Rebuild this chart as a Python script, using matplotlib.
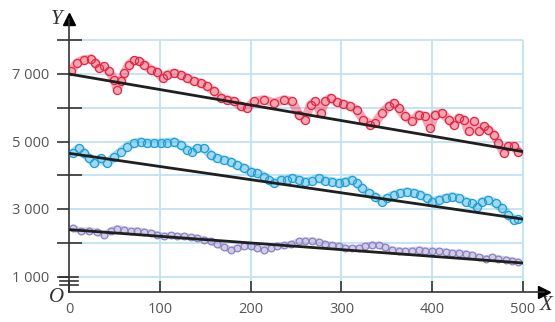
import matplotlib
matplotlib.use("Agg")
from matplotlib import pyplot as plt

# values
red_x = [2, 9, 16, 24, 29, 33, 38, 44, 50, 53, 57, 61, 66, 72, 77, 83, 90, 97, 103, 108,
         116, 123, 130, 138, 145, 152, 160, 167, 174, 182, 189, 196, 204, 215, 226, 237, 246, 253, 260, 266,
         271, 277, 282, 288, 295, 302, 310, 317, 324, 332, 337, 345, 352, 358, 363, 370, 378, 385, 392, 398,
         403, 411, 418, 424, 429, 435, 440, 446, 451, 457, 462, 468, 473, 479, 484, 490, 495]
red_y = [7100, 7330, 7420, 7450, 7330, 7180, 7230, 7080, 6830, 6540, 6780, 7030, 7280, 7400, 7380, 7280, 7130, 7060, 6880, 6980,
         7030, 6980, 6880, 6780, 6730, 6640, 6490, 6290, 6240, 6190, 6040, 5990, 6190, 6240, 6140, 6240, 6190, 5800, 5650, 6090,
         6190, 5840, 6190, 6290, 6170, 6110, 6040, 5940, 5650, 5500, 5550, 5840, 6040, 6140, 5990, 5750, 5600, 5800, 5750, 5400,
         5800, 5840, 5650, 5500, 5700, 5650, 5300, 5600, 5300, 5450, 5350, 5200, 4960, 4660, 4860, 4860, 4690]

blue_x = [4, 11, 17, 22, 28, 35, 42, 50, 57, 64, 72, 79, 86, 94, 101, 108, 116, 123, 130, 136,
          141, 149, 156, 163, 171, 178, 185, 193, 200, 207, 215, 220, 226, 233, 240, 246, 253, 260, 268, 275,
          282, 290, 297, 304, 312, 317, 323, 330, 337, 345, 350, 358, 365, 372, 380, 387, 394, 400, 407, 415,
          422, 429, 437, 444, 449, 455, 462, 470, 477, 484, 490, 495]
blue_y = [4650, 4800, 4650, 4500, 4350, 4500, 4350, 4550, 4700, 4850, 4950, 4990, 4950, 4950, 4950, 4970, 4990, 4900, 4750, 4700,
          4800, 4800, 4600, 4500, 4450, 4400, 4300, 4210, 4110, 4060, 3960, 3860, 3760, 3860, 3860, 3910, 3860, 3810, 3840, 3910,
          3840, 3810, 3760, 3810, 3860, 3760, 3610, 3470, 3370, 3220, 3320, 3420, 3470, 3510, 3470, 3420, 3320, 3220, 3270, 3320,
          3370, 3320, 3220, 3170, 3070, 3220, 3270, 3170, 3020, 2820, 2670, 2690]

purple_x = [4, 13, 22, 31, 39, 46, 53, 61, 68, 75, 83, 90, 97, 105, 112, 119, 127, 134, 141, 149,
            156, 163, 171, 178, 185, 193, 200, 207, 215, 222, 229, 237, 245, 253, 260, 268, 275, 282, 290, 297,
            304, 312, 319, 326, 334, 341, 348, 356, 363, 370, 378, 385, 392, 400, 407, 415, 422, 429, 437, 444,
            451, 459, 466, 473, 481, 488, 495]
purple_y = [2440, 2340, 2360, 2320, 2240, 2360, 2420, 2390, 2340, 2360, 2320, 2290, 2240, 2190, 2220, 2190, 2190, 2160, 2140, 2090,
            2040, 1960, 1870, 1790, 1840, 1900, 1900, 1840, 1790, 1840, 1900, 1920, 1950, 2040, 2060, 2060, 2020, 1960, 1920, 1900,
            1840, 1830, 1840, 1900, 1940, 1920, 1870, 1790, 1770, 1750, 1770, 1790, 1770, 1750, 1750, 1730, 1700, 1700, 1670, 1630,
            1570, 1530, 1570, 1530, 1500, 1470, 1430]

# trend lines (end points)
trend_x = [0, 500]
red_trend = [7000, 4700]
blue_trend = [4650, 2700]
purple_trend = [2390, 1400]

x_ticks = [0, 100, 200, 300, 400, 500]
y_ticks = [1000, 3000, 5000, 7000]
y_tick_labels = ["1 000", "3 000", "5 000", "7 000"]
y_minor = [2000, 4000, 6000, 8000]

W, H = 555, 322
L, R, B, T = 69, 543.5, 292, 19
px_x = 0.908      # pixels per x unit
px_y = 0.03375    # pixels per y unit

fig = plt.figure(figsize=(W / 100, H / 100), dpi=100)
ax = fig.add_axes([L / W, (H - B) / H, (R - L) / W, (B - T) / H])
ax.set_xlim(0, (R - L) / px_x)
ax.set_ylim(7000 - (B - 74) / px_y, 7000 + (74 - T) / px_y)

grid_c = "#bfe3f3"
ax.hlines([1000, 2000, 3000, 4000, 5000, 6000, 7000, 8000], 0, 500, color=grid_c, lw=1.3, zorder=0)
ax.vlines([100, 200, 300, 400, 500], ax.get_ylim()[0], 8000, color=grid_c, lw=1.3, zorder=0)

# each series: a soft ribbon plus the open circles on top
series = [(red_x, red_y, "#e8223f", 6.5, 5.8),
          (blue_x, blue_y, "#1a9fd8", 6.5, 5.8),
          (purple_x, purple_y, "#8d82c2", 5.0, 4.8)]
for xs, ys, c, lw, ms in series:
    ax.plot(xs, ys, color=c, lw=lw, alpha=0.4, solid_joinstyle="round",
            solid_capstyle="round", zorder=2)
    ax.plot(xs, ys, ls="none", marker="o", mfc="none", mec=c, ms=ms, mew=0.9, zorder=3)

for tr in (red_trend, blue_trend, purple_trend):
    ax.plot(trend_x, tr, color="#1f1f1f", lw=2, zorder=4, solid_capstyle="butt")

# axes, ticks
for s in ("top", "right"):
    ax.spines[s].set_visible(False)
for s in ("left", "bottom"):
    ax.spines[s].set_color("#333333")
    ax.spines[s].set_linewidth(1.2)

tick_font = ["Open Sans", "DejaVu Sans"]
ax.set_xticks(x_ticks)
ax.set_yticks(y_ticks, labels=y_tick_labels)
ax.set_yticks(y_minor, minor=True)
ax.tick_params(axis="x", direction="in", length=8, width=1.2, color="#333333",
               labelcolor="#555555", labelsize=10.5, pad=7)
ax.tick_params(axis="y", which="major", direction="out", length=9, width=1.2, color="#333333",
               labelcolor="#555555", labelsize=10.5, pad=5)
ax.tick_params(axis="y", which="minor", direction="inout", length=18, width=1.2, color="#333333")
for lab in ax.get_xticklabels() + ax.get_yticklabels():
    lab.set_family(tick_font)

# axis break marks
for v in (990, 870, 750):
    ax.plot([-9.9, 9.9], [v, v], color="#333333", lw=1.2, clip_on=False, zorder=5)

# arrow heads
ax.plot(1, 0, ">", color="black", ms=8.6, transform=ax.transAxes, clip_on=False)
ax.plot(0, 1, "^", color="black", ms=8.6, transform=ax.transAxes, clip_on=False)

lab_font = dict(family="Liberation Serif", style="italic", fontsize=15, color="#333333",
                ha="center", va="center")
fig.text(56.5 / W, 1 - 19.5 / H, "Y", **lab_font)
fig.text(546 / W, 1 - 306 / H, "X", **lab_font)
fig.text(57 / W, 1 - 298 / H, "O", **lab_font)

fig.savefig("out.png", dpi=100)
